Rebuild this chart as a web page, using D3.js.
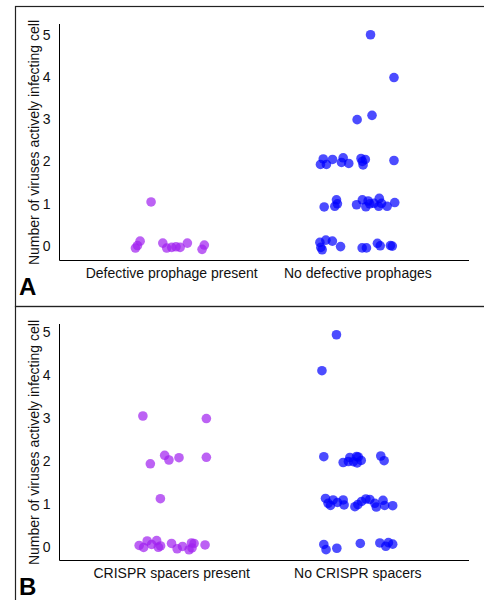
<!DOCTYPE html>
<html>
<head>
<meta charset="utf-8">
<script src="https://cdn.jsdelivr.net/npm/d3@7"></script>
<style>
  body { margin: 0; background: #fff; }
  svg { display: block; font-family: "Liberation Sans", Arial, sans-serif; }
</style>
</head>
<body>
<svg id="chart"></svg>
<script>
// Panel A categories and jittered points (x jitter in category units, y = value)
var catsA = ["Defective prophage present", "No defective prophages"];
var jitterA1 = [-0.167, -0.192, -0.181, -0.045, -0.024, 0.003, 0.026, 0.048, 0.087, 0.178, 0.166, -0.108];
var valuesA1 = [0.11, -0.054, 0.005, 0.064, -0.054, -0.038, -0.024, -0.038, 0.064, 0.017, -0.085, 1.038];
var jitterA2 = [-0.198, -0.183, -0.166, -0.133, -0.085, -0.076, -0.046, 0.020, 0.043, 0.031, 0.197, 0.027,
                -0.178, -0.112, -0.121, -0.107, -0.004, 0.027, 0.046, 0.058, 0.067, 0.090, 0.118, 0.115, 0.130, 0.160, 0.201,
                -0.201, -0.196, -0.189, -0.169, -0.134, -0.090, 0.026, 0.049, 0.108, 0.123, 0.178, 0.188,
                0.071, 0.197, -0.001, 0.079];
var valuesA2 = [1.927, 2.057, 1.927, 2.045, 1.974, 2.085, 1.950, 2.068, 2.045, 1.915, 2.021, 1.998,
                0.920, 1.090, 0.936, 0.995, 0.972, 1.090, 0.925, 1.061, 0.995, 1.007, 1.125, 0.936, 1.007, 0.936, 1.024,
                0.080, -0.038, -0.094, 0.134, 0.111, -0.019, -0.050, -0.050, 0.059, 0.000, 0.005, -0.007,
                5.0, 3.986, 2.988, 3.090];

// Panel B
var catsB = ["CRISPR spacers present", "No CRISPR spacers"];
var jitterB1 = [-0.172, -0.148, -0.129, -0.105, -0.078, -0.069, -0.057, 0.002, 0.032, 0.061, 0.096, 0.109, 0.123, 0.112, 0.182,
                -0.152, 0.189, -0.035, -0.012, 0.042, 0.189, -0.112, -0.058];
var valuesB1 = [0.028, -0.019, 0.133, 0.051, 0.140, -0.014, 0.016, 0.074, -0.049, 0.005, -0.072, 0.086, 0.074, -0.030, 0.040,
                3.040, 2.981, 2.126, 2.016, 2.070, 2.079, 1.928, 1.116];
var jitterB2 = [-0.112, -0.190,
                -0.180, -0.076, -0.048, -0.040, -0.021, -0.004, -0.001, 0.005, 0.021, 0.126, 0.144,
                -0.171, -0.157, -0.144, -0.130, -0.107, -0.076, -0.071, -0.013, 0.003, 0.023, 0.046, 0.067, 0.094, 0.102, 0.138, 0.147, 0.190,
                -0.180, -0.168, -0.110, 0.016, 0.121, 0.153, 0.167, 0.190];
var valuesB2 = [4.930, 4.093,
                2.093, 1.958, 1.981, 2.074, 1.977, 2.098, 1.947, 2.086, 2.005, 2.109, 2.000,
                1.121, 1.009, 0.958, 1.086, 1.028, 1.086, 0.970, 0.930, 0.981, 1.051, 1.109, 1.098, 1.009, 0.923, 1.079, 0.958, 0.953,
                0.051, -0.070, -0.037, 0.074, 0.086, 0.009, 0.093, 0.058];

var yTicks = [0, 1, 2, 3, 4, 5];
var colors = ["#a020f0", "#0000ff"];

var width = 484, height = 600;
var svg = d3.select("#chart").attr("width", width).attr("height", height);

function createJitterPlot(top, cats, groups, letter) {
    var margin = {left: 59.5, right: 469, top: 24, bottom: 260.5};

    var g = svg.append("g").attr("transform", "translate(0," + top + ")");

    // panel frame
    g.append("rect")
        .attr("x", 15.5).attr("y", 6.5)
        .attr("width", 500).attr("height", 300)
        .attr("fill", "none").attr("stroke", "#222").attr("stroke-width", 1.2);

    var all = groups[0].values.concat(groups[1].values);
    var ext = d3.extent(all), pad = (ext[1] - ext[0]) * 0.05;

    var x = d3.scalePoint()
        .domain(cats)
        .range([margin.left, margin.right])
        .padding(0.6);
    var step = x.step();

    var y = d3.scaleLinear()
        .domain([ext[0] - pad, ext[1] + pad])
        .range([margin.bottom, margin.top]);

    // axes: plain lines, no tick marks
    var yAxis = g.append("g")
        .attr("transform", "translate(" + margin.left + ",0)")
        .call(d3.axisLeft(y).tickValues(yTicks).tickSize(0).tickPadding(9).tickFormat(d3.format("d")));
    yAxis.select(".domain").attr("stroke", "#000").attr("d", "M0," + margin.top + "V" + margin.bottom);
    yAxis.selectAll("text").attr("font-size", 14).attr("fill", "#111")
        .attr("font-family", "Liberation Sans, Arial, sans-serif");

    var xAxis = g.append("g")
        .attr("transform", "translate(0," + margin.bottom + ")")
        .call(d3.axisBottom(x).tickSize(0).tickPadding(8));
    xAxis.select(".domain").attr("stroke", "#000").attr("d", "M" + margin.left + ",0H" + margin.right);
    xAxis.selectAll("text").attr("font-size", 14).attr("fill", "#111")
        .attr("font-family", "Liberation Sans, Arial, sans-serif");

    // y axis title
    g.append("text")
        .attr("transform", "rotate(-90)")
        .attr("x", -142.5)
        .attr("y", 39)
        .style("text-anchor", "middle")
        .attr("font-size", 14)
        .attr("fill", "#111")
        .text("Number of viruses actively infecting cell");

    // points
    groups.forEach(function(grp, i) {
        var pts = grp.values.map(function(v, k) { return {j: grp.jitter[k], v: v}; });
        g.selectAll(".pt" + i)
            .data(pts)
          .enter().append("circle")
            .attr("class", "pt" + i)
            .attr("cx", function(d) { return x(cats[i]) + d.j * step; })
            .attr("cy", function(d) { return y(d.v); })
            .attr("r", 4.8)
            .attr("fill", colors[i])
            .attr("fill-opacity", 0.7);
    });

    // panel letter
    g.append("text")
        .attr("x", 19)
        .attr("y", 295)
        .attr("font-size", 24)
        .attr("font-weight", "bold")
        .attr("fill", "#000")
        .text(letter);
}

createJitterPlot(0, catsA, [{jitter: jitterA1, values: valuesA1}, {jitter: jitterA2, values: valuesA2}], "A");
createJitterPlot(300, catsB, [{jitter: jitterB1, values: valuesB1}, {jitter: jitterB2, values: valuesB2}], "B");
</script>
</body>
</html>
